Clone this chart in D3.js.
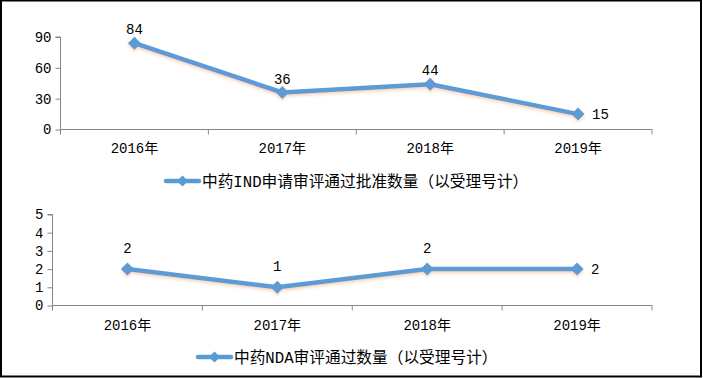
<!DOCTYPE html>
<html><head><meta charset="utf-8">
<script src="https://cdn.jsdelivr.net/npm/d3@7"></script>
<style>
body{margin:0;background:#fff;}
svg{display:block;}
</style></head>
<body><svg id="c" width="703" height="378"></svg>
<script>
const categories = ["2016年","2017年","2018年","2019年"];
const indValues = [84, 36, 44, 15];
const ndaValues = [2, 1, 2, 2];
const indTicks = [0, 30, 60, 90];
const ndaTicks = [0, 1, 2, 3, 4, 5];
const indLegend = "中药IND申请审评通过批准数量（以受理号计）";
const ndaLegend = "中药NDA审评通过数量（以受理号计）";

const svg = d3.select("#c");
const FONT = "'Liberation Mono','Noto Sans CJK SC',monospace";
const LINE = "#5B9BD5";
const AXIS = "#868686";

const defs = svg.append("defs");
const f = defs.append("filter").attr("id","sh").attr("x","-50%").attr("y","-50%").attr("width","200%").attr("height","200%");
f.append("feDropShadow").attr("dx",0).attr("dy",2).attr("stdDeviation",1.6).attr("flood-color","#f4b183").attr("flood-opacity",0.55);

svg.append("rect").attr("x",1).attr("y",0.5).attr("width",700).attr("height",376)
  .attr("fill","none").attr("stroke","#000").attr("stroke-width",2);

function diamond(s){ return `M0,${-s}L${s},0L0,${s}L${-s},0Z`; }

function drawChart(opt){
  const g = svg.append("g");
  const x = d3.scaleBand().domain(categories).range([opt.x0, opt.x1]);
  const y = d3.scaleLinear().domain([0, opt.ymax]).range([opt.y0, opt.y1]);
  const ya = g.append("g").attr("transform",`translate(${opt.x0},0)`)
    .call(d3.axisLeft(y).tickValues(opt.ticks).tickFormat(d3.format("d")).tickSize(5).tickPadding(4));
  ya.select(".domain").attr("stroke",AXIS).attr("d",`M-5,${opt.y1}H0V${opt.y0}`);
  ya.selectAll(".tick line").attr("stroke",AXIS);
  ya.selectAll("text").attr("font-family",FONT).attr("font-size",opt.tfs).attr("fill","#000");
  const xa = g.append("g").attr("transform",`translate(0,${opt.y0})`)
    .call(d3.axisBottom(x).tickSize(0).tickPadding(opt.xpad));
  xa.select(".domain").attr("stroke",AXIS).attr("d",`M${opt.x0},0H${opt.x1}`);
  xa.selectAll("text").attr("font-family",FONT).attr("font-size",14).attr("fill","#000");
  const bounds = categories.map(c=>x(c)).concat([opt.x1]);
  g.selectAll(".bt").data(bounds).enter().append("line")
    .attr("x1",d=>d).attr("x2",d=>d).attr("y1",opt.y0).attr("y2",opt.y0+5)
    .attr("stroke",AXIS);
  const cx = c => x(c) + x.bandwidth()/2;
  const pts = categories.map((c,i)=>[cx(c), y(opt.values[i])]);
  const lg = g.append("g").attr("filter","url(#sh)");
  lg.append("path").attr("d", d3.line()(pts)).attr("fill","none")
    .attr("stroke",LINE).attr("stroke-width",4.5).attr("stroke-linejoin","round").attr("stroke-linecap","round");
  lg.selectAll(".m").data(pts).enter().append("path")
    .attr("transform",d=>`translate(${d[0]},${d[1]})`).attr("d",diamond(6.5)).attr("fill",LINE);
  g.selectAll(".vl").data(opt.values).enter().append("text")
    .attr("x",(d,i)=> i===3 ? pts[i][0]+14 : pts[i][0])
    .attr("y",(d,i)=> i===3 ? pts[i][1]+5 : pts[i][1]-opt.lblUp)
    .attr("text-anchor",(d,i)=> i===3 ? "start":"middle")
    .attr("font-family",FONT).attr("font-size",14).attr("fill","#000").text(d=>d);
  const lgd = g.append("g").attr("transform",`translate(${opt.legX},${opt.legY})`);
  lgd.append("line").attr("x1",0).attr("x2",33).attr("y1",0).attr("y2",0)
    .attr("stroke",LINE).attr("stroke-width",4.5).attr("stroke-linecap","round");
  lgd.append("path").attr("transform","translate(16.5,0)").attr("d",diamond(5.5)).attr("fill",LINE);
  lgd.append("text").attr("x",36).attr("y",5.5).attr("font-family",FONT).attr("font-size",15.7)
    .attr("fill","#000").text(opt.legend);
}

drawChart({x0:60.5, x1:652, y0:129.5, y1:37, ymax:90, ticks:indTicks, values:indValues,
  tfs:14, xpad:14, lblUp:9, legX:166, legY:181, legend:indLegend});
drawChart({x0:52.5, x1:652, y0:305.5, y1:214.5, ymax:5, ticks:ndaTicks, values:ndaValues,
  tfs:14, xpad:15, lblUp:16, legX:198, legY:357, legend:ndaLegend});
</script></body></html>
